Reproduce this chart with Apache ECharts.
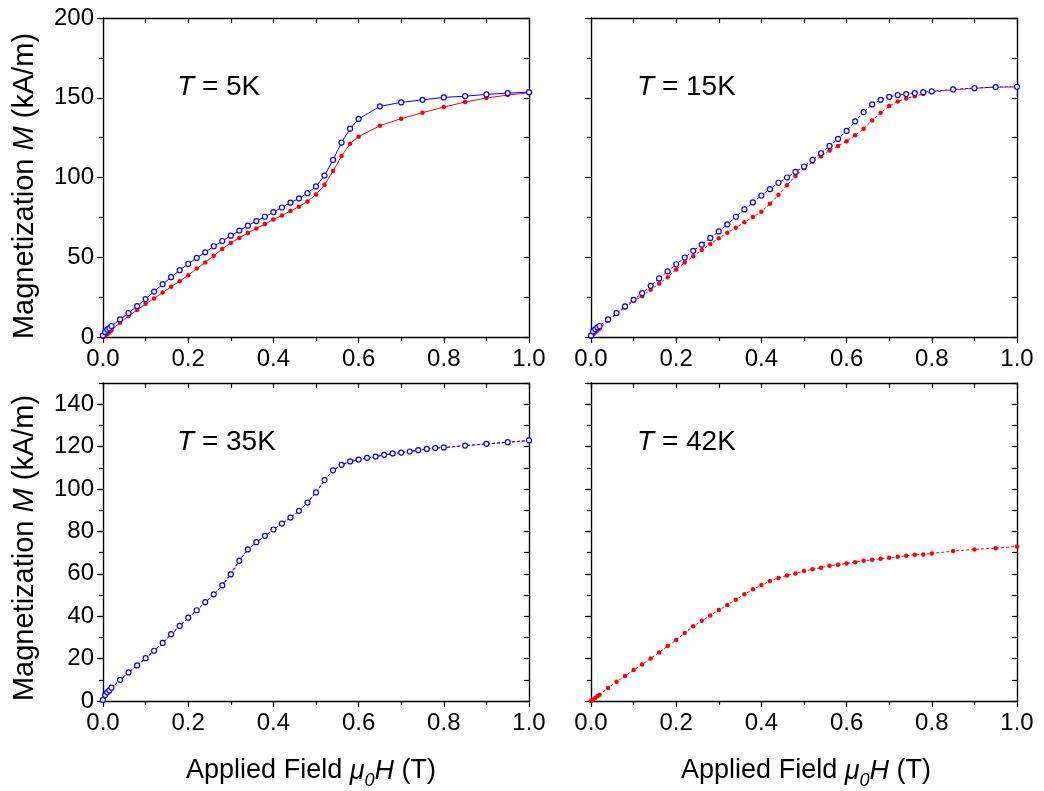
<!DOCTYPE html>
<html>
<head>
<meta charset="utf-8">
<script src="https://cdn.jsdelivr.net/npm/echarts@6/dist/echarts.min.js"></script>
<style>
  html, body { margin: 0; padding: 0; background: #fff; }
  #chart { width: 1044px; height: 791px; }
</style>
</head>
<body>
<div id="chart"></div>
<script>
// Applied field values (T) for each temperature
const field5K = [0, 0.005, 0.01, 0.015, 0.02, 0.04, 0.06, 0.08, 0.10, 0.12, 0.14, 0.16, 0.18, 0.20,
  0.22, 0.24, 0.26, 0.28, 0.30, 0.32, 0.34, 0.36, 0.38, 0.40, 0.42, 0.44, 0.46, 0.48, 0.50,
  0.52, 0.54, 0.56, 0.58, 0.60, 0.65, 0.70, 0.75, 0.80, 0.85, 0.90, 0.95, 1.0];
const fieldHigh = [0, 0.005, 0.01, 0.015, 0.02, 0.04, 0.06, 0.08, 0.10, 0.12, 0.14, 0.16, 0.18, 0.20,
  0.22, 0.24, 0.26, 0.28, 0.30, 0.32, 0.34, 0.36, 0.38, 0.40, 0.42, 0.44, 0.46, 0.48, 0.50,
  0.52, 0.54, 0.56, 0.58, 0.60, 0.62, 0.64, 0.66, 0.68, 0.70, 0.72, 0.74, 0.76, 0.78, 0.80,
  0.85, 0.90, 0.95, 1.0];

// Magnetization (kA/m): "up" = increasing field (filled red), "down" = decreasing field (open blue)
const m5Kup = [0, 0.8, 1.8, 2.8, 4.2, 9.0, 13.1, 16.9, 20.8, 24.2, 27.9, 31.5, 35.0, 38.7,
  42.9, 46.7, 51.0, 55.2, 59.0, 62.1, 65.2, 68.1, 70.8, 73.7, 76.2, 79.0, 81.7, 85.0, 89.4,
  95.4, 104.0, 113.5, 121.2, 125.6, 132.5, 136.9, 140.6, 144.2, 147.3, 149.8, 151.7, 153.1];
const m5Kdown = [1.0, 3.2, 4.6, 5.6, 6.9, 11.0, 15.0, 19.4, 23.8, 28.5, 33.1, 37.5, 41.9, 45.8,
  49.6, 53.1, 56.9, 60.2, 63.5, 66.7, 69.8, 72.7, 75.4, 78.3, 81.2, 84.2, 86.9, 90.2, 94.4,
  101.2, 111.0, 121.9, 130.6, 136.7, 144.6, 147.1, 148.7, 150.2, 151.0, 152.1, 152.9, 153.5];

const m15Kup = [0, 1.5, 2.8, 4.0, 5.2, 10.3, 14.6, 18.5, 22.5, 25.6, 29.6, 33.5, 37.5, 42.3,
  46.7, 50.6, 54.6, 58.3, 61.9, 65.4, 68.5, 71.9, 75.2, 78.5, 83.5, 89.2, 95.2, 101.0, 105.8,
  109.8, 113.3, 116.9, 119.8, 122.7, 126.5, 130.6, 135.8, 140.6, 144.8, 147.7, 149.6, 151.0,
  152.3, 153.5, 155.0, 155.9, 156.6, 156.8];
const m15Kdown = [1.0, 3.5, 4.8, 6.0, 6.9, 11.0, 15.0, 19.2, 23.3, 27.5, 32.1, 36.7, 41.2, 45.6,
  49.8, 54.0, 57.9, 62.1, 66.2, 70.6, 75.4, 80.0, 84.4, 88.7, 92.7, 96.7, 100.0, 103.5, 106.9,
  111.0, 115.2, 119.8, 124.2, 129.2, 135.2, 141.0, 145.8, 148.7, 150.6, 151.7, 152.3, 152.9,
  153.5, 154.0, 155.2, 156.0, 156.7, 156.9];

const m35Kup = [0, 2.4, 3.8, 4.8, 6.0, 9.8, 13.3, 16.7, 20.1, 23.6, 27.3, 31.4, 35.3, 39.2,
  42.7, 46.5, 50.2, 54.6, 60.2, 66.6, 71.4, 74.8, 77.8, 80.8, 83.6, 86.4, 89.6, 93.5, 98.3,
  104.1, 108.7, 111.3, 112.9, 113.8, 114.6, 115.2, 116.0, 116.7, 117.1, 117.6, 118.2, 118.8,
  119.2, 119.5, 120.4, 121.2, 122.0, 122.8];
const m35Kdown = [0.5, 2.8, 4.1, 5.0, 6.3, 10.0, 13.5, 16.8, 20.2, 23.7, 27.4, 31.5, 35.4, 39.3,
  42.8, 46.6, 50.3, 54.5, 59.7, 66.1, 71.5, 74.9, 77.9, 80.9, 83.7, 86.5, 89.7, 93.6, 98.4,
  104.2, 108.8, 111.4, 113.0, 113.9, 114.7, 115.3, 116.1, 116.8, 117.2, 117.7, 118.3, 118.9,
  119.3, 119.6, 120.5, 121.3, 122.1, 122.9];

const m42Kup = [0, 0.7, 1.4, 2.2, 3.0, 6.1, 9.1, 11.8, 14.6, 17.2, 20.1, 22.9, 25.9, 28.8,
  32.1, 35.3, 37.8, 40.3, 42.9, 45.3, 47.8, 50.3, 52.7, 54.7, 56.6, 58.0, 59.2, 60.2, 61.3,
  62.1, 62.9, 63.8, 64.3, 64.9, 65.5, 66.1, 66.6, 67.1, 67.6, 68.0, 68.5, 69.0, 69.1, 69.6,
  70.7, 71.5, 72.1, 72.9];

// Panel labels and axis ranges
const panelLabels = ['5K', '15K', '35K', '42K'];
const xTickValues = ['0.0', '0.2', '0.4', '0.6', '0.8', '1.0'];
const yRangeTop = { max: 200, major: 50, minor: 25 };
const yRangeBottom = { max: 150, major: 20, minor: 10 };

const FONT = '"Liberation Sans", Arial, Helvetica, sans-serif';
const BLUE = '#0000ff';
const RED = '#ff0000';

const panels = [
  { left: 103, top: 18, width: 426, height: 319, range: yRangeTop, yLabels: true,
    series: [{ x: field5K, y: m5Kup, kind: 'up' }, { x: field5K, y: m5Kdown, kind: 'down' }], dash: 'solid' },
  { left: 591, top: 18, width: 426, height: 319, range: yRangeTop, yLabels: false,
    series: [{ x: fieldHigh, y: m15Kup, kind: 'up' }, { x: fieldHigh, y: m15Kdown, kind: 'down' }], dash: [3, 2] },
  { left: 103, top: 383, width: 426, height: 318, range: yRangeBottom, yLabels: true,
    series: [{ x: fieldHigh, y: m35Kup, kind: 'up' }, { x: fieldHigh, y: m35Kdown, kind: 'down' }], dash: [3, 2] },
  { left: 591, top: 383, width: 426, height: 318, range: yRangeBottom, yLabels: false,
    series: [{ x: fieldHigh, y: m42Kup, kind: 'up' }], dash: [3, 2] }
];

const grid = [], xAxis = [], yAxis = [], series = [], graphic = [];
const axisLine = { show: true, onZero: false, lineStyle: { color: '#000', width: 1.4 } };

panels.forEach((p, i) => {
  grid.push({ left: p.left, top: p.top, width: p.width, height: p.height, outerBoundsMode: 'none' });

  // bottom field axis with labels
  const xMain = xAxis.length;
  xAxis.push({
    type: 'value', gridIndex: i, position: 'bottom', min: 0, max: 1, interval: 0.2,
    axisLine, splitLine: { show: false },
    axisTick: { show: true, inside: false, length: 6, lineStyle: { color: '#000', width: 1.2 } },
    minorTick: { show: true, splitNumber: 2, length: 4, lineStyle: { color: '#000', width: 1.2 } },
    axisLabel: { show: true, margin: 10, fontFamily: FONT, fontSize: 24, color: '#000',
      formatter: v => xTickValues.find(t => Math.abs(parseFloat(t) - v) < 1e-6) || '' }
  });
  // top mirror axis
  xAxis.push({
    type: 'value', gridIndex: i, position: 'top', min: 0, max: 1, interval: 0.1,
    axisLine, splitLine: { show: false }, axisLabel: { show: false },
    axisTick: { show: true, inside: true, length: 5, lineStyle: { color: '#000', width: 1.2 } }
  });

  // left magnetization axis
  const yMain = yAxis.length;
  const r = p.range;
  const leftAxis = {
    type: 'value', gridIndex: i, position: 'left', min: 0, max: r.max, interval: r.major,
    axisLine, splitLine: { show: false },
    axisTick: { show: true, inside: false, length: 6, lineStyle: { color: '#000', width: 1.2 } },
    axisLabel: { show: p.yLabels, margin: 9, fontFamily: FONT, fontSize: 24, color: '#000',
      showMaxLabel: r.max % r.major === 0 }
  };
  if (r.max % r.major === 0) {
    leftAxis.minorTick = { show: true, splitNumber: r.major / r.minor, length: 4,
      lineStyle: { color: '#000', width: 1.2 } };
  }
  yAxis.push(leftAxis);
  if (r.max % r.major !== 0) {
    // minor ticks on the left side
    yAxis.push({
      type: 'value', gridIndex: i, position: 'left', min: 0, max: r.max, interval: r.minor,
      axisLine: { show: false }, splitLine: { show: false }, axisLabel: { show: false },
      axisTick: { show: true, inside: false, length: 4, lineStyle: { color: '#000', width: 1.2 } }
    });
  }
  // right mirror axis
  yAxis.push({
    type: 'value', gridIndex: i, position: 'right', min: 0, max: r.max, interval: r.minor,
    axisLine, splitLine: { show: false }, axisLabel: { show: false },
    axisTick: { show: true, inside: true, length: 5, lineStyle: { color: '#000', width: 1.2 } }
  });

  p.series.forEach(s => {
    const isUp = s.kind === 'up';
    series.push({
      type: 'line', xAxisIndex: xMain, yAxisIndex: yMain,
      data: s.x.map((xv, k) => [xv, s.y[k]]),
      symbol: 'circle', symbolSize: isUp ? 4.5 : 5,
      showAllSymbol: true, animation: false, z: isUp ? 2 : 3,
      lineStyle: { color: isUp ? RED : BLUE, width: 1, type: p.dash },
      itemStyle: isUp ? { color: RED, borderWidth: 0 }
                      : { color: '#fff', borderColor: BLUE, borderWidth: 1.2 }
    });
  });

  // temperature label
  graphic.push({
    type: 'text', left: p.left + (i % 2 === 0 ? 74 : 46), top: p.top + (i < 2 ? 55 : 45),
    style: {
      text: '{i|T} = ' + panelLabels[i], fontFamily: FONT, fontSize: 28, fill: '#000',
      rich: { i: { fontStyle: 'italic', fontFamily: FONT, fontSize: 28 } }
    }
  });
});

// axis titles
const yTitleRich = { i: { fontStyle: 'italic', fontFamily: FONT, fontSize: 29 } };
[186, 548].forEach(cy => {
  graphic.push({
    type: 'text', x: 25, y: cy, rotation: Math.PI / 2,
    style: { text: 'Magnetization {i|M} (kA/m)', fontFamily: FONT, fontSize: 29, fill: '#000',
      align: 'center', verticalAlign: 'middle', rich: yTitleRich }
  });
});
const xTitleRich = {
  n: { fontFamily: FONT, fontSize: 27 },
  i: { fontStyle: 'italic', fontFamily: FONT, fontSize: 27 },
  sub: { fontStyle: 'italic', fontFamily: FONT, fontSize: 18, padding: [20, 0, 0, 0] }
};
[311, 806].forEach(cx => {
  graphic.push({
    type: 'text', x: cx, y: 771,
    style: { text: '{n|Applied Field }{i|μ}{sub|0}{i|H}{n| (T)}', fontFamily: FONT, fontSize: 27,
      fill: '#000', align: 'center', verticalAlign: 'middle', rich: xTitleRich }
  });
});

const chart = echarts.init(document.getElementById('chart'), null, { renderer: 'canvas' });
chart.setOption({
  backgroundColor: '#fff',
  animation: false,
  grid, xAxis, yAxis, series, graphic
});
</script>
</body>
</html>
